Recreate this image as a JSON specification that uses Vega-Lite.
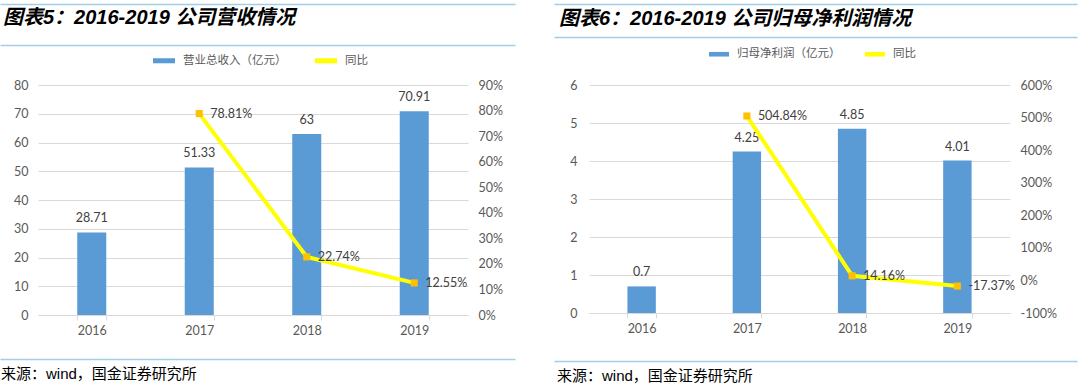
{
  "$schema": "https://vega.github.io/schema/vega-lite/v6.json",
  "background": "white",
  "padding": {"top": 4, "left": 0, "right": 0, "bottom": 0},
  "datasets": {
    "rev": [
      {"year": "2016", "value": 28.71, "yoy": null},
      {"year": "2017", "value": 51.33, "yoy": 0.7881},
      {"year": "2018", "value": 63, "yoy": 0.2274},
      {"year": "2019", "value": 70.91, "yoy": 0.1255}
    ],
    "np": [
      {"year": "2016", "value": 0.7, "yoy": null},
      {"year": "2017", "value": 4.25, "yoy": 5.0484},
      {"year": "2018", "value": 4.85, "yoy": 0.1416},
      {"year": "2019", "value": 4.01, "yoy": -0.1737}
    ],
    "blank": []
  },
  "config": {
    "view": {"stroke": null},
    "font": "Noto Sans CJK SC",
    "locale": {"number": {"decimal": ".", "thousands": ",", "grouping": [3], "currency": ["$", ""], "minus": "-"}}
  },
  "spacing": 1,
  "resolve": {"scale": {"x": "independent", "y": "independent", "color": "independent"}, "legend": {"color": "independent"}},
  "hconcat": [
    {
      "columns": 1,
      "align": "none",
      "spacing": 2,
      "resolve": {"scale": {"x": "independent", "y": "independent", "color": "independent"}, "legend": {"color": "independent"}},
      "concat": [
        {"width": 477, "height": 1.5, "data": {"name": "blank"}, "mark": {"type": "point"},
          "encoding": {"x": {"field": "v", "type": "quantitative", "scale": {"domain": [0, 1], "range": [-38, 477]}, "axis": {"orient": "top", "title": null, "labels": false, "ticks": false, "grid": false, "domainColor": "#9fd0e8", "domainWidth": 1.5}}}},
        {"width": 477, "height": 1.5, "data": {"name": "blank"}, "mark": {"type": "point"},
          "encoding": {"x": {"field": "v", "type": "quantitative", "scale": {"domain": [0, 1], "range": [-38, 477]}, "axis": {"orient": "top", "title": null, "labels": false, "ticks": false, "grid": false, "domainColor": "#9fd0e8", "domainWidth": 1.5}}},
          "title": {"text": "图表5：2016-2019 公司营收情况", "orient": "top", "anchor": "start", "offset": 17, "dx": -35, "fontSize": 20, "fontWeight": "bold", "fontStyle": "italic", "font": "Liberation Sans, Noto Sans CJK SC", "color": "#000000"}},
        {
          "width": 430, "height": 230,
          "data": {"name": "rev"},
          "layer": [
            {"layer": [
              {"mark": {"type": "bar"},
               "encoding": {
                 "x": {"field": "year", "type": "ordinal", "scale": {"paddingInner": 0.73, "paddingOuter": 0.365}, "axis": {"title": null, "labelAngle": 0, "tickBand": "extent", "grid": false, "domainColor": "#d9d9d9", "tickColor": "#d9d9d9", "tickSize": 5, "labelColor": "#595959", "labelFont": "Lato", "labelFontSize": 12.5, "labelPadding": 4, "minExtent": 41.5, "maxExtent": 41.5}},
                 "y": {"field": "value", "type": "quantitative", "scale": {"domain": [0, 80], "nice": false}, "axis": {"orient": "left", "title": null, "values": [0, 10, 20, 30, 40, 50, 60, 70, 80], "grid": true, "gridColor": "#d9d9d9", "domain": false, "ticks": false, "tickSize": 0, "labelPadding": 10, "labelColor": "#595959", "labelFont": "Lato", "labelFontSize": 12.5, "minExtent": 38, "maxExtent": 38}},
                 "color": {"datum": "营业总收入（亿元）", "type": "nominal", "scale": {"domain": ["营业总收入（亿元）", "同比"], "range": ["#5b9bd5", "#ffff00"]},
                   "legend": {"orient": "none", "legendX": 115, "legendY": -35.5, "direction": "horizontal", "title": null, "symbolType": "M-1,-0.23H1V0.23H-1Z", "symbolSize": 484, "symbolStrokeWidth": 0, "labelOffset": 8, "columnPadding": 28, "labelFontSize": 11.5, "labelColor": "#595959", "labelFont": "Noto Sans CJK SC", "padding": 0}}
               }},
              {"mark": {"type": "text", "baseline": "middle", "dy": -14, "color": "#404040", "font": "Lato", "fontSize": 12.5},
               "encoding": {
                 "x": {"field": "year", "type": "ordinal", "scale": {"paddingInner": 0.73, "paddingOuter": 0.365}, "axis": {"title": null, "labelAngle": 0, "tickBand": "extent", "grid": false, "domainColor": "#d9d9d9", "tickColor": "#d9d9d9", "tickSize": 5, "labelColor": "#595959", "labelFont": "Lato", "labelFontSize": 12.5, "labelPadding": 4, "minExtent": 41.5, "maxExtent": 41.5}},
                 "y": {"field": "value", "type": "quantitative", "scale": {"domain": [0, 80], "nice": false}, "axis": {"orient": "left", "title": null, "values": [0, 10, 20, 30, 40, 50, 60, 70, 80], "grid": true, "gridColor": "#d9d9d9", "domain": false, "ticks": false, "tickSize": 0, "labelPadding": 10, "labelColor": "#595959", "labelFont": "Lato", "labelFontSize": 12.5, "minExtent": 38, "maxExtent": 38}},
                 "text": {"field": "value", "type": "nominal"}
               }}
            ]},
            {"layer": [
              {"mark": {"type": "line", "strokeWidth": 4},
               "encoding": {
                 "x": {"field": "year", "type": "ordinal"},
                 "y": {"field": "yoy", "type": "quantitative", "scale": {"domain": [0, 0.9], "nice": false}, "axis": {"orient": "right", "title": null, "format": ".0%", "values": [0, 0.1, 0.2, 0.3, 0.4, 0.5, 0.6, 0.7, 0.8, 0.9], "grid": false, "domain": false, "ticks": false, "tickSize": 0, "labelPadding": 10, "labelColor": "#595959", "labelFont": "Lato", "labelFontSize": 12.5}},
                 "color": {"datum": "同比", "type": "nominal"}
               }},
              {"mark": {"type": "point", "shape": "square", "filled": true, "color": "#ffc000", "size": 50, "opacity": 1},
               "encoding": {
                 "x": {"field": "year", "type": "ordinal"},
                 "y": {"field": "yoy", "type": "quantitative", "scale": {"domain": [0, 0.9], "nice": false}, "axis": {"orient": "right", "title": null, "format": ".0%", "values": [0, 0.1, 0.2, 0.3, 0.4, 0.5, 0.6, 0.7, 0.8, 0.9], "grid": false, "domain": false, "ticks": false, "tickSize": 0, "labelPadding": 10, "labelColor": "#595959", "labelFont": "Lato", "labelFontSize": 12.5}}
               }},
              {"mark": {"type": "text", "align": "left", "baseline": "middle", "dx": 11, "color": "#404040", "font": "Lato", "fontSize": 12.5},
               "encoding": {
                 "x": {"field": "year", "type": "ordinal"},
                 "y": {"field": "yoy", "type": "quantitative", "scale": {"domain": [0, 0.9], "nice": false}, "axis": {"orient": "right", "title": null, "format": ".0%", "values": [0, 0.1, 0.2, 0.3, 0.4, 0.5, 0.6, 0.7, 0.8, 0.9], "grid": false, "domain": false, "ticks": false, "tickSize": 0, "labelPadding": 10, "labelColor": "#595959", "labelFont": "Lato", "labelFontSize": 12.5}},
                 "text": {"field": "yoy", "type": "quantitative", "format": ".2%"}
               }}
            ]}
          ],
          "resolve": {"scale": {"y": "independent"}}
        },
        {"width": 477, "height": 1.5, "data": {"name": "blank"}, "mark": {"type": "point"},
          "encoding": {"x": {"field": "v", "type": "quantitative", "scale": {"domain": [0, 1], "range": [-38, 477]}, "axis": {"orient": "top", "title": null, "labels": false, "ticks": false, "grid": false, "domainColor": "#9fd0e8", "domainWidth": 1.5}}},
          "title": {"text": "来源：wind，国金证券研究所", "orient": "bottom", "anchor": "start", "offset": 6, "dx": -37, "fontSize": 15, "fontWeight": "normal", "font": "Liberation Sans, Noto Sans CJK SC", "color": "#000000"}}
      ]
    },
    {
      "columns": 1,
      "align": "none",
      "spacing": 2,
      "resolve": {"scale": {"x": "independent", "y": "independent", "color": "independent"}, "legend": {"color": "independent"}},
      "concat": [
        {"width": 488, "height": 1.5, "data": {"name": "blank"}, "mark": {"type": "point"},
          "encoding": {"x": {"field": "v", "type": "quantitative", "scale": {"domain": [0, 1], "range": [-35, 488]}, "axis": {"orient": "top", "title": null, "labels": false, "ticks": false, "grid": false, "domainColor": "#9fd0e8", "domainWidth": 1.5}}}},
        {"width": 488, "height": 1.5, "data": {"name": "blank"}, "mark": {"type": "point"},
          "encoding": {"x": {"field": "v", "type": "quantitative", "scale": {"domain": [0, 1], "range": [-35, 488]}, "axis": {"orient": "top", "title": null, "labels": false, "ticks": false, "grid": false, "domainColor": "#9fd0e8", "domainWidth": 1.5}}},
          "title": {"text": "图表6：2016-2019 公司归母净利润情况", "orient": "top", "anchor": "start", "offset": 8.5, "dx": -30, "fontSize": 20, "fontWeight": "bold", "fontStyle": "italic", "font": "Liberation Sans, Noto Sans CJK SC", "color": "#000000"}},
        {
          "width": 421, "height": 228,
          "data": {"name": "np"},
          "layer": [
            {"layer": [
              {"mark": {"type": "bar"},
               "encoding": {
                 "x": {"field": "year", "type": "ordinal", "scale": {"paddingInner": 0.73, "paddingOuter": 0.365}, "axis": {"title": null, "labelAngle": 0, "tickBand": "extent", "grid": false, "domainColor": "#d9d9d9", "tickColor": "#d9d9d9", "tickSize": 5, "labelColor": "#595959", "labelFont": "Lato", "labelFontSize": 12.5, "labelPadding": 4, "minExtent": 46, "maxExtent": 46}},
                 "y": {"field": "value", "type": "quantitative", "scale": {"domain": [0, 6], "nice": false}, "axis": {"orient": "left", "title": null, "values": [0, 1, 2, 3, 4, 5, 6], "grid": true, "gridColor": "#d9d9d9", "domain": false, "ticks": false, "tickSize": 0, "labelPadding": 12, "labelColor": "#595959", "labelFont": "Lato", "labelFontSize": 12.5, "minExtent": 35, "maxExtent": 35}},
                 "color": {"datum": "归母净利润（亿元）", "type": "nominal", "scale": {"domain": ["归母净利润（亿元）", "同比"], "range": ["#5b9bd5", "#ffff00"]},
                   "legend": {"orient": "none", "legendX": 117, "legendY": -44, "direction": "horizontal", "title": null, "symbolType": "M-1,-0.23H1V0.23H-1Z", "symbolSize": 400, "symbolStrokeWidth": 0, "labelOffset": 8, "columnPadding": 24, "labelFontSize": 11.5, "labelColor": "#595959", "labelFont": "Noto Sans CJK SC", "padding": 3}}
               }},
              {"mark": {"type": "text", "baseline": "middle", "dy": -14, "color": "#404040", "font": "Lato", "fontSize": 12.5},
               "encoding": {
                 "x": {"field": "year", "type": "ordinal", "scale": {"paddingInner": 0.73, "paddingOuter": 0.365}, "axis": {"title": null, "labelAngle": 0, "tickBand": "extent", "grid": false, "domainColor": "#d9d9d9", "tickColor": "#d9d9d9", "tickSize": 5, "labelColor": "#595959", "labelFont": "Lato", "labelFontSize": 12.5, "labelPadding": 4, "minExtent": 46, "maxExtent": 46}},
                 "y": {"field": "value", "type": "quantitative", "scale": {"domain": [0, 6], "nice": false}, "axis": {"orient": "left", "title": null, "values": [0, 1, 2, 3, 4, 5, 6], "grid": true, "gridColor": "#d9d9d9", "domain": false, "ticks": false, "tickSize": 0, "labelPadding": 12, "labelColor": "#595959", "labelFont": "Lato", "labelFontSize": 12.5, "minExtent": 35, "maxExtent": 35}},
                 "text": {"field": "value", "type": "nominal"}
               }}
            ]},
            {"layer": [
              {"mark": {"type": "line", "strokeWidth": 4},
               "encoding": {
                 "x": {"field": "year", "type": "ordinal"},
                 "y": {"field": "yoy", "type": "quantitative", "scale": {"domain": [-1, 6], "nice": false}, "axis": {"orient": "right", "title": null, "format": ".0%", "values": [-1, 0, 1, 2, 3, 4, 5, 6], "grid": false, "domain": false, "ticks": false, "tickSize": 0, "labelPadding": 10, "labelColor": "#595959", "labelFont": "Lato", "labelFontSize": 12.5}},
                 "color": {"datum": "同比", "type": "nominal"}
               }},
              {"mark": {"type": "point", "shape": "square", "filled": true, "color": "#ffc000", "size": 50, "opacity": 1},
               "encoding": {
                 "x": {"field": "year", "type": "ordinal"},
                 "y": {"field": "yoy", "type": "quantitative", "scale": {"domain": [-1, 6], "nice": false}, "axis": {"orient": "right", "title": null, "format": ".0%", "values": [-1, 0, 1, 2, 3, 4, 5, 6], "grid": false, "domain": false, "ticks": false, "tickSize": 0, "labelPadding": 10, "labelColor": "#595959", "labelFont": "Lato", "labelFontSize": 12.5}}
               }},
              {"mark": {"type": "text", "align": "left", "baseline": "middle", "dx": 11, "color": "#404040", "font": "Lato", "fontSize": 12.5},
               "encoding": {
                 "x": {"field": "year", "type": "ordinal"},
                 "y": {"field": "yoy", "type": "quantitative", "scale": {"domain": [-1, 6], "nice": false}, "axis": {"orient": "right", "title": null, "format": ".0%", "values": [-1, 0, 1, 2, 3, 4, 5, 6], "grid": false, "domain": false, "ticks": false, "tickSize": 0, "labelPadding": 10, "labelColor": "#595959", "labelFont": "Lato", "labelFontSize": 12.5}},
                 "text": {"field": "yoy", "type": "quantitative", "format": ".2%"}
               }}
            ]}
          ],
          "resolve": {"scale": {"y": "independent"}}
        },
        {"width": 488, "height": 1.5, "data": {"name": "blank"}, "mark": {"type": "point"},
          "encoding": {"x": {"field": "v", "type": "quantitative", "scale": {"domain": [0, 1], "range": [-35, 488]}, "axis": {"orient": "top", "title": null, "labels": false, "ticks": false, "grid": false, "domainColor": "#9fd0e8", "domainWidth": 1.5}}},
          "title": {"text": "来源：wind，国金证券研究所", "orient": "bottom", "anchor": "start", "offset": 6, "dx": -32, "fontSize": 15, "fontWeight": "normal", "font": "Liberation Sans, Noto Sans CJK SC", "color": "#000000"}}
      ]
    }
  ]
}
